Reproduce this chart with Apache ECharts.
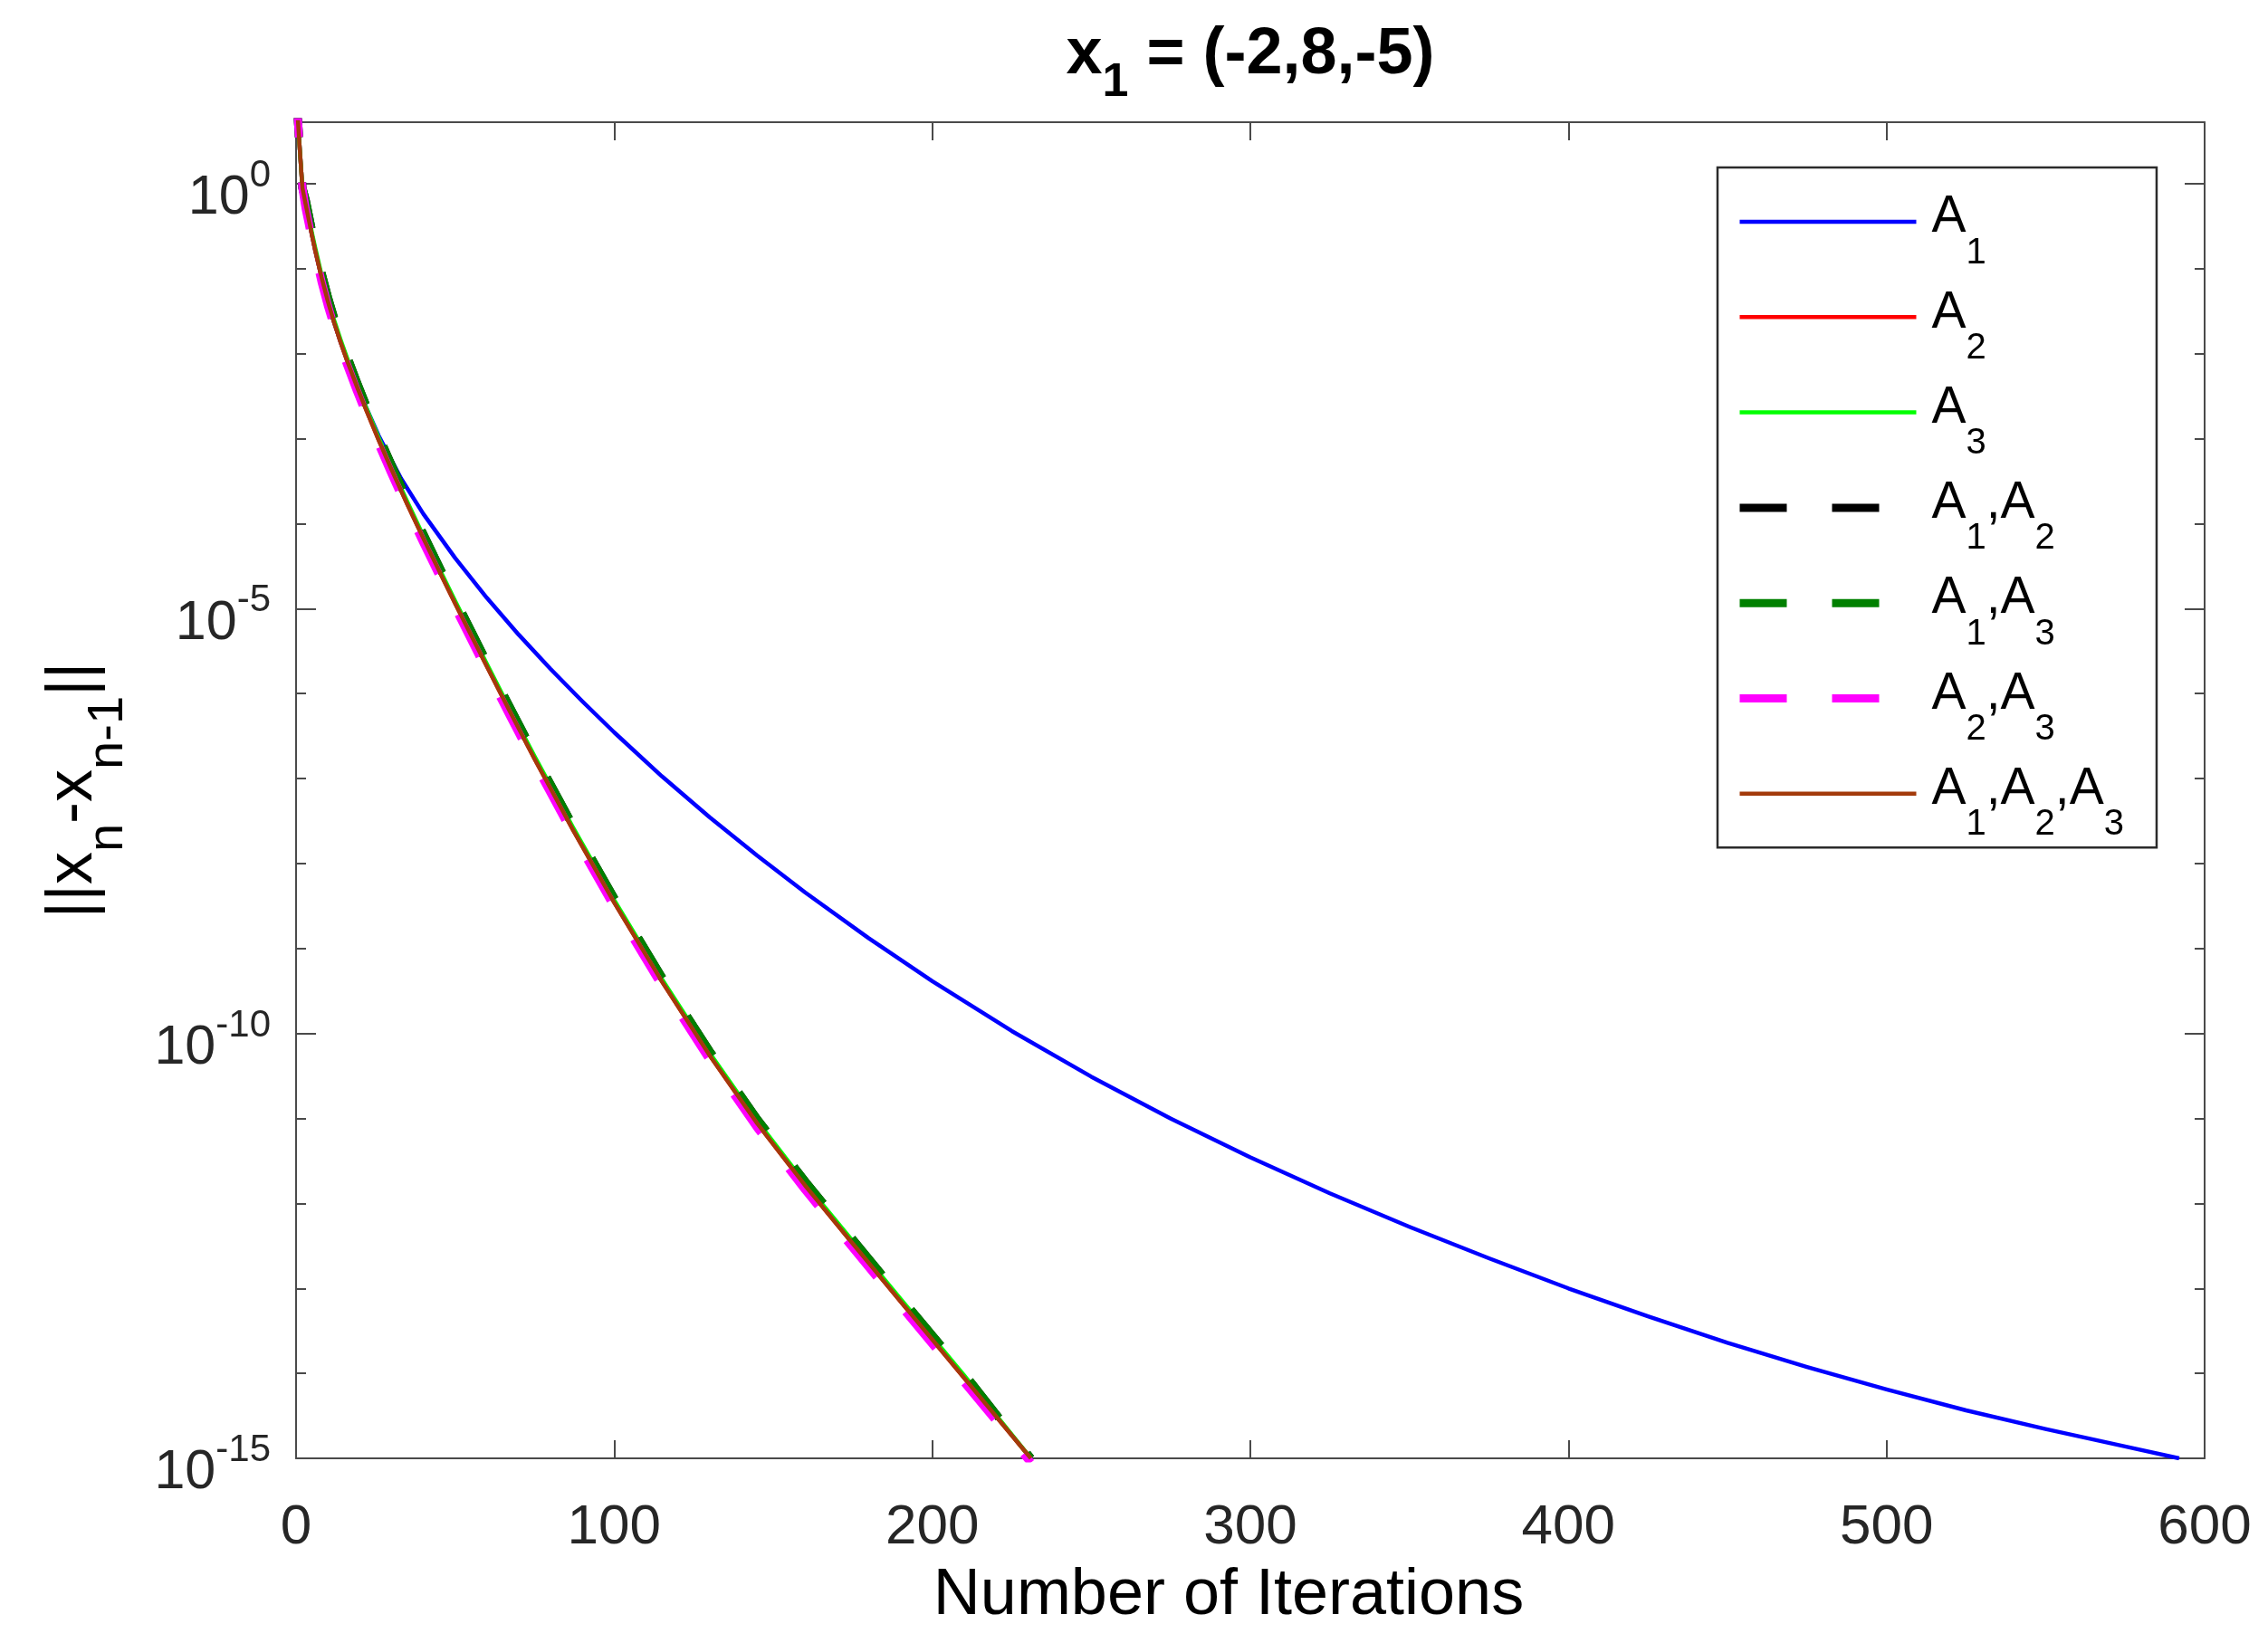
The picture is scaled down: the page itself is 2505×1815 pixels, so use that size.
<!DOCTYPE html>
<html><head><meta charset="utf-8">
<script src="https://cdn.jsdelivr.net/npm/echarts@6/dist/echarts.min.js"></script>
<style>html,body{margin:0;padding:0;background:#fff;}#c{width:2505px;height:1815px;}</style>
</head><body><div id="c"></div>
<script>
// ---- data ----
const itersA1 = [0,1,2,3,4,5,6,8,10,12,14,16,21,26,33,40,50,60,70,80,90,100,115,130,145,160,180,200,225,250,275,300,325,350,375,400,425,450,475,500,525,550,575,592];
const valuesA1 = [12.59,3.162,0.891,0.578,0.380,0.248,0.166,0.0794,0.0413,0.0231,0.01368,8.47e-3,2.85e-3,1.078e-3,3.40e-4,1.304e-4,3.94e-5,1.335e-5,4.93e-6,1.95e-6,8.11e-7,3.50e-7,1.064e-7,3.51e-8,1.236e-8,4.58e-9,1.321e-9,4.13e-10,1.069e-10,3.10e-11,9.95e-12,3.48e-12,1.315e-12,5.31e-13,2.26e-13,1.0e-13,4.68e-14,2.29e-14,1.189e-14,6.46e-15,3.67e-15,2.21e-15,1.38e-15,1.0e-15];
const itersFast = [0,1,2,3,4,5,6,8,10,12,14,16,19,22,26,30,35,40,45,50,55,60,67,75,87,100,115,130,145,160,175,190,210,231];
const valuesA2 = [12.59,3.162,0.891,0.578,0.380,0.248,0.166,0.0794,0.0413,0.0231,0.01368,8.39e-3,4.22e-3,2.20e-3,9.59e-4,4.35e-4,1.68e-4,6.73e-5,2.77e-5,1.156e-5,4.89e-6,2.08e-6,6.38e-7,1.70e-7,2.51e-8,3.49e-9,4.10e-10,5.53e-11,8.71e-12,1.63e-12,3.37e-13,7.05e-14,8.87e-15,1.0e-15];
const valuesA3 = [12.59,3.162,0.891,0.618,0.407,0.265,0.178,0.085,0.0442,0.0247,0.01464,8.98e-3,4.52e-3,2.35e-3,1.026e-3,4.65e-4,1.80e-4,7.2e-5,2.96e-5,1.237e-5,5.23e-6,2.23e-6,6.83e-7,1.82e-7,2.69e-8,3.73e-9,4.39e-10,5.92e-11,9.32e-12,1.74e-12,3.61e-13,7.54e-14,9.49e-15,1.0e-15];
const valuesA1A2 = [12.59,3.162,0.891,0.647,0.426,0.278,0.186,0.0889,0.0463,0.0259,0.01532,9.40e-3,4.73e-3,2.46e-3,1.074e-3,4.87e-4,1.88e-4,7.54e-5,3.10e-5,1.295e-5,5.48e-6,2.33e-6,7.15e-7,1.90e-7,2.81e-8,3.91e-9,4.59e-10,6.19e-11,9.76e-12,1.83e-12,3.77e-13,7.90e-14,9.93e-15,1.0e-15];
const valuesA1A3 = [12.59,3.162,0.891,0.647,0.426,0.278,0.186,0.0889,0.0463,0.0259,0.01532,9.40e-3,4.73e-3,2.46e-3,1.074e-3,4.87e-4,1.88e-4,7.54e-5,3.10e-5,1.295e-5,5.48e-6,2.33e-6,7.15e-7,1.90e-7,2.81e-8,3.91e-9,4.59e-10,6.19e-11,9.76e-12,1.83e-12,3.77e-13,7.90e-14,9.93e-15,1.0e-15];
const valuesA2A3 = [12.59,3.162,0.891,0.514,0.338,0.221,0.148,0.0707,0.0368,0.0206,0.01218,7.47e-3,3.76e-3,1.96e-3,8.54e-4,3.87e-4,1.50e-4,5.99e-5,2.47e-5,1.029e-5,4.35e-6,1.85e-6,5.68e-7,1.51e-7,2.23e-8,3.11e-9,3.65e-10,4.92e-11,7.75e-12,1.45e-12,3.0e-13,6.27e-14,7.89e-15,8.9e-16];
const valuesA1A2A3 = [12.59,3.162,0.891,0.578,0.380,0.248,0.166,0.0794,0.0413,0.0231,0.01368,8.39e-3,4.22e-3,2.20e-3,9.59e-4,4.35e-4,1.68e-4,6.73e-5,2.77e-5,1.156e-5,4.89e-6,2.08e-6,6.38e-7,1.70e-7,2.51e-8,3.49e-9,4.10e-10,5.53e-11,8.71e-12,1.63e-12,3.37e-13,7.05e-14,8.87e-15,1.0e-15];
const xTickLabels = [0,100,200,300,400,500,600];
const yLabelExponents = [0,-5,-10,-15];
const seriesNames = ['A1','A2','A3','A1,A2','A1,A3','A2,A3','A1,A2,A3'];

const FONT = '"Liberation Sans", Arial, sans-serif';
const pairs = (xs, ys) => xs.map((x, i) => [x, ys[i]]);
const richName = (name) => {
  const parts = name.match(/[^0-9]+|[0-9]+/g);
  return parts.map((p, i) => /[0-9]/.test(p) ? '{s|' + p + '}' : (i === 0 ? '{a0|' + p + '}' : '{a|' + p + '}')).join('');
};

const yMin = 1e-15, yMax = 5.3;
const styles = [
  {color:'#0000FF', width:4.5, type:'solid', data: pairs(itersA1, valuesA1)},
  {color:'#FF0000', width:4.5, type:'solid', data: pairs(itersFast, valuesA2)},
  {color:'#00FF00', width:4.5, type:'solid', data: pairs(itersFast, valuesA3)},
  {color:'#000000', width:9, type:[52,50], data: pairs(itersFast, valuesA1A2)},
  {color:'#008000', width:9, type:[52,50], data: pairs(itersFast, valuesA1A3)},
  {color:'#FF00FF', width:9, type:[52,50], data: pairs(itersFast, valuesA2A3)},
  {color:'#A33A0B', width:4.5, type:'solid', data: pairs(itersFast, valuesA1A2A3)}
];

const series = styles.map((s, i) => ({
  name: seriesNames[i], type: 'line', symbol: 'none', showSymbol: false, clip: true,
  smooth: false,
  xAxisIndex: 0, yAxisIndex: 0, animation: false,
  lineStyle: {color: s.color, width: s.width, type: s.type, join: 'round'},
  itemStyle: {color: s.color},
  data: s.data
}));

const axisLineStyle = {color: '#4a4a4a', width: 2};
const yLabelFmt = (v) => {
  const e = Math.log10(v); const r = Math.round(e);
  if (Math.abs(e - r) > 1e-6 || yLabelExponents.indexOf(r) < 0) return '';
  return '{b|10}{s|' + (r === 0 ? '0' : r) + '}';
};
const logAxis = (extra) => Object.assign({
  type: 'log', logBase: 10, min: yMin, max: yMax, gridIndex: 0,
  splitLine: {show: false}, minorTick: {show: false}, minorSplitLine: {show: false}
}, extra);

const option = {
  backgroundColor: '#fff',
  animation: false,
  textStyle: {fontFamily: FONT},
  title: {
    text: '{x|x}{sub|1}{x| = (-2,8,-5)}',
    left: 1381, top: 25, padding: 0, textAlign: 'center',
    textStyle: {
      rich: {
        x: {fontFamily: FONT, fontSize: 72, fontWeight: 'bold', color: '#000', lineHeight: 72, verticalAlign: 'top', padding: [0,0,21,0]},
        sub: {fontFamily: FONT, fontSize: 52, fontWeight: 'bold', color: '#000', lineHeight: 52, padding: [41,0,0,0], verticalAlign: 'top'}
      }
    }
  },
  grid: {left: 327, right: 70, top: 135, bottom: 204, containLabel: false},
  legend: {
    orient: 'vertical', left: 1897, top: 185, selectedMode: false,
    padding: [27, 36, 5, 20], itemGap: 17.8, itemWidth: 195, itemHeight: 40,
    backgroundColor: '#fff', borderColor: '#2b2b2b', borderWidth: 2.5, borderRadius: 0,
    data: styles.map((s, i) => ({name: seriesNames[i],
      lineStyle: {width: s.width, type: s.type, color: s.color},
      itemStyle: {opacity: 0, color: s.color, borderWidth: 0}})),
    formatter: (n) => richName(n),
    textStyle: {
      color: '#000',
      rich: {
        a0: {fontFamily: FONT, fontSize: 57, lineHeight: 66, verticalAlign: 'top', color: '#000', padding: [0,0,21.5,12]},
        a: {fontFamily: FONT, fontSize: 57, lineHeight: 66, verticalAlign: 'top', color: '#000', padding: [0,0,21.5,0]},
        s: {fontFamily: FONT, fontSize: 40, lineHeight: 40, verticalAlign: 'top', color: '#000', padding: [47.5,0,0,0]}
      }
    }
  },
  xAxis: [
    {type: 'value', min: 0, max: 600, interval: 100, position: 'bottom', gridIndex: 0,
     name: 'Number of Iterations', nameLocation: 'middle', nameGap: 116,
     nameTextStyle: {fontFamily: FONT, fontSize: 72, color: '#000', padding: [0, 48, 0, 0]},
     axisLine: {show: true, lineStyle: axisLineStyle},
     axisTick: {show: true, inside: true, length: 20, lineStyle: axisLineStyle},
     axisLabel: {show: true, margin: 46, fontFamily: FONT, fontSize: 62, color: '#262626',
       formatter: (v) => (xTickLabels.indexOf(v) >= 0 ? String(v) : '')},
     splitLine: {show: false}},
    {type: 'value', min: 0, max: 600, interval: 100, position: 'top', gridIndex: 0,
     axisLine: {show: true, lineStyle: axisLineStyle},
     axisTick: {show: true, inside: true, length: 20, lineStyle: axisLineStyle},
     axisLabel: {show: false}, splitLine: {show: false}}
  ],
  yAxis: [
    logAxis({position: 'left', interval: 5,
      name: '{t|||x}{u|n}{t|-x}{u|n-1}{t|||}', nameLocation: 'middle', nameGap: 210,
      nameTextStyle: {rich: {
        t: {fontFamily: FONT, fontSize: 72, lineHeight: 72, verticalAlign: 'top', color: '#000', padding: [0,0,31,0]},
        u: {fontFamily: FONT, fontSize: 56, lineHeight: 56, verticalAlign: 'top', color: '#000', padding: [47,0,0,0]}
      }},
      axisLine: {show: true, lineStyle: axisLineStyle},
      axisTick: {show: true, inside: true, length: 22, lineStyle: axisLineStyle},
      axisLabel: {show: true, margin: 28, formatter: yLabelFmt, rich: {
        b: {fontFamily: FONT, fontSize: 61, lineHeight: 60, verticalAlign: 'top', color: '#262626', padding: [16,0,14,0]},
        s: {fontFamily: FONT, fontSize: 42, lineHeight: 42, verticalAlign: 'top', color: '#262626', padding: [0.5,0,47.5,0]}
      }}}),
    logAxis({position: 'left', interval: 1,
      axisLine: {show: false}, axisLabel: {show: false},
      axisTick: {show: true, inside: true, length: 11, lineStyle: axisLineStyle}}),
    logAxis({position: 'right', interval: 5,
      axisLine: {show: true, lineStyle: axisLineStyle}, axisLabel: {show: false},
      axisTick: {show: true, inside: true, length: 22, lineStyle: axisLineStyle}}),
    logAxis({position: 'right', interval: 1,
      axisLine: {show: false}, axisLabel: {show: false},
      axisTick: {show: true, inside: true, length: 11, lineStyle: axisLineStyle}})
  ],
  series: series
};

const chart = echarts.init(document.getElementById('c'), null, {renderer: 'canvas', width: 2505, height: 1815});
chart.setOption(option);
</script>
</body></html>
